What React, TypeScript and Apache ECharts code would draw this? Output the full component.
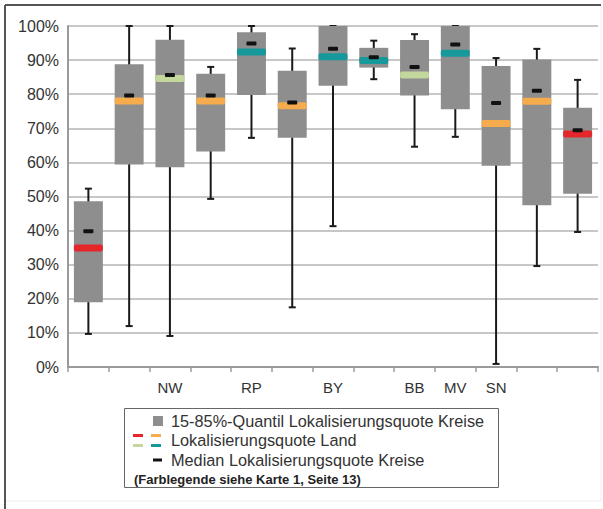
import React, { useEffect, useRef } from "react";
import * as echarts from "echarts";

const categories = ["", "", "NW", "", "RP", "", "BY", "", "BB", "MV", "SN", "", ""];
const whiskerLow = [9.7, 12, 9.1, 49.3, 67.2, 17.5, 41.3, 84.4, 64.6, 67.5, 0.9, 29.6, 39.6];
const q15 = [19, 59.4, 58.6, 63.2, 79.8, 67.2, 82.5, 87.8, 79.6, 75.6, 59, 47.4, 50.8];
const median = [39.8, 79.6, 85.6, 79.6, 94.9, 77.6, 93.3, 90.8, 88, 94.6, 77.4, 81, 69.4];
const q85 = [48.6, 88.8, 96, 86, 98.2, 86.9, 100, 93.6, 95.9, 100, 88.3, 90.2, 76];
const whiskerHigh = [52.3, 100, 100, 88, 100, 93.4, 100, 95.7, 97.6, 100, 90.6, 93.3, 84.2];
const landValue = [34.9, 78, 84.6, 78, 92.4, 76.6, 91, 89.9, 85.6, 92, 71.4, 77.9, 68.3];
const landColor = ["red", "orange", "green", "orange", "teal", "orange", "teal", "teal", "green", "teal", "orange", "orange", "red"];
const yTicks = [0, 10, 20, 30, 40, 50, 60, 70, 80, 90, 100];

const palette: Record<string, string> = {
  red: "#e5262b",
  orange: "#f6ab4c",
  green: "#c3d69c",
  teal: "#17989b",
};

const BOX = "#8e8e8e";
const FONT = "'Liberation Sans', Arial, sans-serif";

export default function App() {
  const ref = useRef<HTMLDivElement>(null);
  useEffect(() => {
    if (!ref.current) return;
    const chart = echarts.init(ref.current, null, { renderer: "svg" });
    const data = categories.map((_, i) => [
      i,
      whiskerLow[i],
      q15[i],
      median[i],
      q85[i],
      whiskerHigh[i],
      landValue[i],
    ]);
    const option: any = {
      animation: false,
      backgroundColor: "#ffffff",
      grid: { left: 68, right: 5, top: 26, bottom: 142 },
      xAxis: {
        type: "category",
        data: categories,
        boundaryGap: true,
        axisLine: { lineStyle: { color: "#9a9a9a", width: 2 } },
        axisTick: { show: true, length: 5, lineStyle: { color: "#9a9a9a", width: 1.5 } },
        axisLabel: { color: "#333", fontSize: 15, fontFamily: FONT, margin: 13, interval: 0 },
        splitLine: { show: false },
      },
      yAxis: {
        type: "value",
        min: 0,
        max: 100,
        interval: 10,
        axisLine: { show: true, lineStyle: { color: "#9a9a9a", width: 2 } },
        axisTick: { show: false },
        axisLabel: {
          color: "#333",
          fontSize: 16,
          fontFamily: FONT,
          margin: 9,
          formatter: (v: number) => (yTicks.includes(v) ? v + "%" : ""),
        },
        splitLine: { show: true, lineStyle: { color: "#b4b4b4", width: 1.5 } },
      },
      series: [
        {
          type: "custom",
          data,
          encode: { x: 0, y: [1, 2, 3, 4, 5, 6] },
          renderItem: (params: any, api: any) => {
            const i = api.value(0);
            const cx = api.coord([i, 0])[0];
            const bw = api.size([1, 0])[0] * 0.71;
            const yLow = api.coord([i, api.value(1)])[1];
            const yQ15 = api.coord([i, api.value(2)])[1];
            const yMed = api.coord([i, api.value(3)])[1];
            const yQ85 = api.coord([i, api.value(4)])[1];
            const yHigh = api.coord([i, api.value(5)])[1];
            const yLand = api.coord([i, api.value(6)])[1];
            const col = palette[landColor[params.dataIndex]];
            const line = { stroke: "#1a1a1a", lineWidth: 2 };
            return {
              type: "group",
              children: [
                { type: "line", shape: { x1: cx, y1: yLow, x2: cx, y2: yHigh }, style: line },
                { type: "line", shape: { x1: cx - 3.5, y1: yLow, x2: cx + 3.5, y2: yLow }, style: line },
                { type: "line", shape: { x1: cx - 3.5, y1: yHigh, x2: cx + 3.5, y2: yHigh }, style: line },
                {
                  type: "rect",
                  shape: { x: cx - bw / 2, y: yQ85, width: bw, height: yQ15 - yQ85 },
                  style: { fill: BOX },
                },
                {
                  type: "rect",
                  shape: { x: cx - bw / 2, y: yLand - 3.5, width: bw, height: 7, r: 2 },
                  style: { fill: col },
                },
                {
                  type: "rect",
                  shape: { x: cx - 5, y: yMed - 2, width: 10, height: 4, r: 1 },
                  style: { fill: "#111" },
                },
              ],
            };
          },
        },
      ],
      graphic: [
        { type: "line", shape: { x1: 5, y1: 5, x2: 601, y2: 5 }, style: { stroke: "#555", lineWidth: 2 } },
        { type: "line", shape: { x1: 5, y1: 5, x2: 5, y2: 509 }, style: { stroke: "#555", lineWidth: 2 } },
        { type: "line", shape: { x1: 601, y1: 6, x2: 601, y2: 501 }, style: { stroke: "#eeeeee", lineWidth: 1 } },
        { type: "line", shape: { x1: 6, y1: 501, x2: 601, y2: 501 }, style: { stroke: "#eeeeee", lineWidth: 1 } },
        {
          type: "rect",
          shape: { x: 124.5, y: 408.5, width: 374, height: 79 },
          style: { fill: "#fff", stroke: "#666", lineWidth: 1 },
        },
        { type: "rect", shape: { x: 153, y: 416, width: 10, height: 10 }, style: { fill: BOX } },
        { type: "text", x: 171, y: 421, style: { text: "15-85%-Quantil Lokalisierungsquote Kreise", fill: "#333", font: `16.3px ${FONT}`, textVerticalAlign: "middle" } },
        { type: "rect", shape: { x: 133, y: 434, width: 10, height: 3 }, style: { fill: palette.red } },
        { type: "rect", shape: { x: 151, y: 434, width: 10, height: 3 }, style: { fill: palette.orange } },
        { type: "rect", shape: { x: 133, y: 444, width: 10, height: 3 }, style: { fill: palette.green } },
        { type: "rect", shape: { x: 151, y: 444, width: 10, height: 3 }, style: { fill: palette.teal } },
        { type: "text", x: 171, y: 440, style: { text: "Lokalisierungsquote Land", fill: "#333", font: `16.3px ${FONT}`, textVerticalAlign: "middle" } },
        { type: "rect", shape: { x: 153, y: 458.5, width: 9, height: 3 }, style: { fill: "#111" } },
        { type: "text", x: 171, y: 460, style: { text: "Median Lokalisierungsquote Kreise", fill: "#333", font: `16.3px ${FONT}`, textVerticalAlign: "middle" } },
        { type: "text", x: 134, y: 479, style: { text: "(Farblegende siehe Karte 1, Seite 13)", fill: "#222", font: `bold 13px ${FONT}`, textVerticalAlign: "middle" } },
      ],
    };
    chart.setOption(option);
    return () => chart.dispose();
  }, []);
  return (
    <div
      ref={ref}
      style={{ position: "fixed", left: 0, top: 0, width: 603, height: 509, background: "#fff" }}
    />
  );
}
